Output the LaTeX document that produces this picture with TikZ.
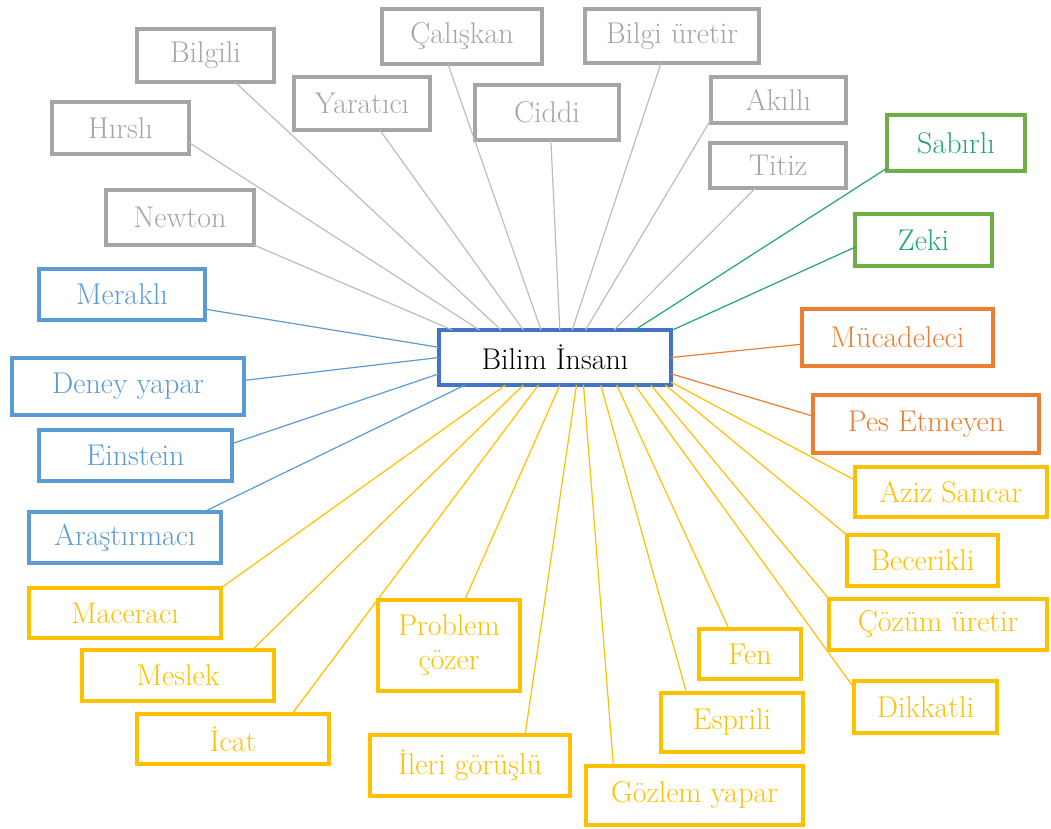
\documentclass[tikz,border=0pt]{standalone}
\usepackage{fontspec}
\definecolor{cGri}{HTML}{A5A5A5}
\definecolor{cGriL}{HTML}{BDBDBD}
\definecolor{cMavi}{HTML}{5B9BD5}
\definecolor{cMerkez}{HTML}{4472C4}
\definecolor{cYesil}{HTML}{70AD47}
\definecolor{cYesilT}{HTML}{1FA866}
\definecolor{cTuruncu}{HTML}{ED7D31}
\definecolor{cSari}{HTML}{FFC000}
\begin{document}
\begin{tikzpicture}[y=1pt, x=1pt, yscale=-1.000000, xscale=1.000000, inner sep=0pt, outer sep=0pt,
	kutu/.style={rectangle, draw=#1, text=#1, line width=4.5, font=\fontsize{30}{34}\selectfont, align=center},
	cizgi/.style={draw=#1, line width=1.2}]
\useasboundingbox (0,0) rectangle (1051,829);
\node[kutu=cMerkez, text=black, minimum width=232, minimum height=55] (bi) at (555,357.5) {Bilim İnsanı};
% gri
\node[kutu=cGri, minimum width=137, minimum height=53] (bilgili) at (205.5,55.5) {Bilgili};
\node[kutu=cGri, minimum width=137, minimum height=52] (hirsli) at (120.5,128) {Hırslı};
\node[kutu=cGri, minimum width=148, minimum height=55] (newton) at (180,217.5) {Newton};
\node[kutu=cGri, minimum width=136, minimum height=53] (yaratici) at (362,103.5) {Yaratıcı};
\node[kutu=cGri, minimum width=160, minimum height=55] (caliskan) at (462,36.5) {Çalışkan};
\node[kutu=cGri, minimum width=144, minimum height=55] (ciddi) at (547,112.5) {Ciddi};
\node[kutu=cGri, minimum width=174, minimum height=54] (bilgiuretir) at (672,36) {Bilgi üretir};
\node[kutu=cGri, minimum width=135, minimum height=46] (akilli) at (778.5,100) {Akıllı};
\node[kutu=cGri, minimum width=136, minimum height=45] (titiz) at (778,165.5) {\raisebox{-7pt}{Titiz}};
% yesil
\node[kutu=cYesil, text=cYesilT, minimum width=138, minimum height=56] (sabirli) at (956,143) {Sabırlı};
\node[kutu=cYesil, text=cYesilT, minimum width=137, minimum height=52] (zeki) at (923.5,240) {Zeki};
% mavi
\node[kutu=cMavi, minimum width=166, minimum height=51] (merakli) at (122,294.5) {Meraklı};
\node[kutu=cMavi, minimum width=232, minimum height=57] (deney) at (128,386.5) {Deney yapar};
\node[kutu=cMavi, minimum width=193, minimum height=51] (einstein) at (135.5,455.5) {Einstein};
\node[kutu=cMavi, minimum width=192, minimum height=51] (arastirmaci) at (125,537.5) {Araştırmacı};
% turuncu
\node[kutu=cTuruncu, minimum width=191, minimum height=57] (mucadeleci) at (897.5,337.5) {Mücadeleci};
\node[kutu=cTuruncu, minimum width=226, minimum height=58] (pesetmeyen) at (926,424) {Pes Etmeyen};
% sari
\node[kutu=cSari, minimum width=192, minimum height=50] (aziz) at (951,492) {Aziz Sancar};
\node[kutu=cSari, minimum width=151, minimum height=51] (becerikli) at (922.5,560.5) {Becerikli};
\node[kutu=cSari, minimum width=218, minimum height=51] (cozum) at (938,624.5) {Çözüm üretir};
\node[kutu=cSari, minimum width=143, minimum height=52] (dikkatli) at (925.5,707) {Dikkatli};
\node[kutu=cSari, minimum width=102, minimum height=50] (fen) at (750,654) {Fen};
\node[kutu=cSari, minimum width=142, minimum height=59] (esprili) at (732,722.5) {Esprili};
\node[kutu=cSari, minimum width=217, minimum height=59] (gozlem) at (694.5,795.5) {Gözlem yapar};
\node[kutu=cSari, minimum width=200, minimum height=61] (ileri) at (470,765.5) {İleri görüşlü};
\node[kutu=cSari, minimum width=142, minimum height=91] (problem) at (449,645.5) {Problem\\çözer};
\node[kutu=cSari, minimum width=192, minimum height=50] (maceraci) at (125,613) {Maceracı};
\node[kutu=cSari, minimum width=192, minimum height=51] (meslek) at (178,675.5) {Meslek};
\node[kutu=cSari, minimum width=192, minimum height=50] (icat) at (233,739) {İcat};
% baglantilar
\draw[cizgi=cGriL] (newton.south east) -- (bi.165.6);
\draw[cizgi=cGriL] (hirsli.-12) -- (bi.160.4);
\draw[cizgi=cGriL] (bilgili.-42) -- (bi.153);
\draw[cizgi=cGriL] (yaratici.-56) -- (bi.139.9);
\draw[cizgi=cGriL] (caliskan.-117) -- (bi.117);
\draw[cizgi=cGriL] (ciddi.-82) -- (bi.80.4);
\draw[cizgi=cGriL] (bilgiuretir.-112) -- (bi.58.6);
\draw[cizgi=cGriL] (akilli.196) -- (bi.42.7);
\draw[cizgi=cGriL] (titiz.-135) -- (bi.25.4);
\draw[cizgi=cYesilT] (sabirli.200) -- (bi.19.8);
\draw[cizgi=cYesilT] (zeki.186) -- (bi.13);
\draw[cizgi=cMavi] (merakli.-10) -- (bi.175.4);
\draw[cizgi=cMavi] (deney.3) -- (bi.180);
\draw[cizgi=cMavi] (einstein.7) -- (bi.188.5);
\draw[cizgi=cMavi] (arastirmaci.18) -- (bi.197.2);
\draw[cizgi=cTuruncu] (mucadeleci.184) -- (bi.0);
\draw[cizgi=cTuruncu] (pesetmeyen.176) -- (bi.-8.4);
\draw[cizgi=cSari] (aziz.173) -- (bi.-12.7);
\draw[cizgi=cSari] (becerikli.north west) -- (bi.-14.4);
\draw[cizgi=cSari] (cozum.north west) -- (bi.-16.8);
\draw[cizgi=cSari] (dikkatli.165) -- (bi.-19.8);
\draw[cizgi=cSari] (fen.130) -- (bi.-24.4);
\draw[cizgi=cSari] (esprili.147) -- (bi.-31.6);
\draw[cizgi=cSari] (gozlem.160) -- (bi.-44.5);
\draw[cizgi=cSari] (ileri.29) -- (bi.-52);
\draw[cizgi=cSari] (problem.71) -- (bi.-80.4);
\draw[cizgi=cSari] (icat.23) -- (bi.-121.4);
\draw[cizgi=cSari] (meslek.19) -- (bi.-139.9);
\draw[cizgi=cSari] (maceraci.north east) -- (bi.-151.8);
\end{tikzpicture}
\end{document}
